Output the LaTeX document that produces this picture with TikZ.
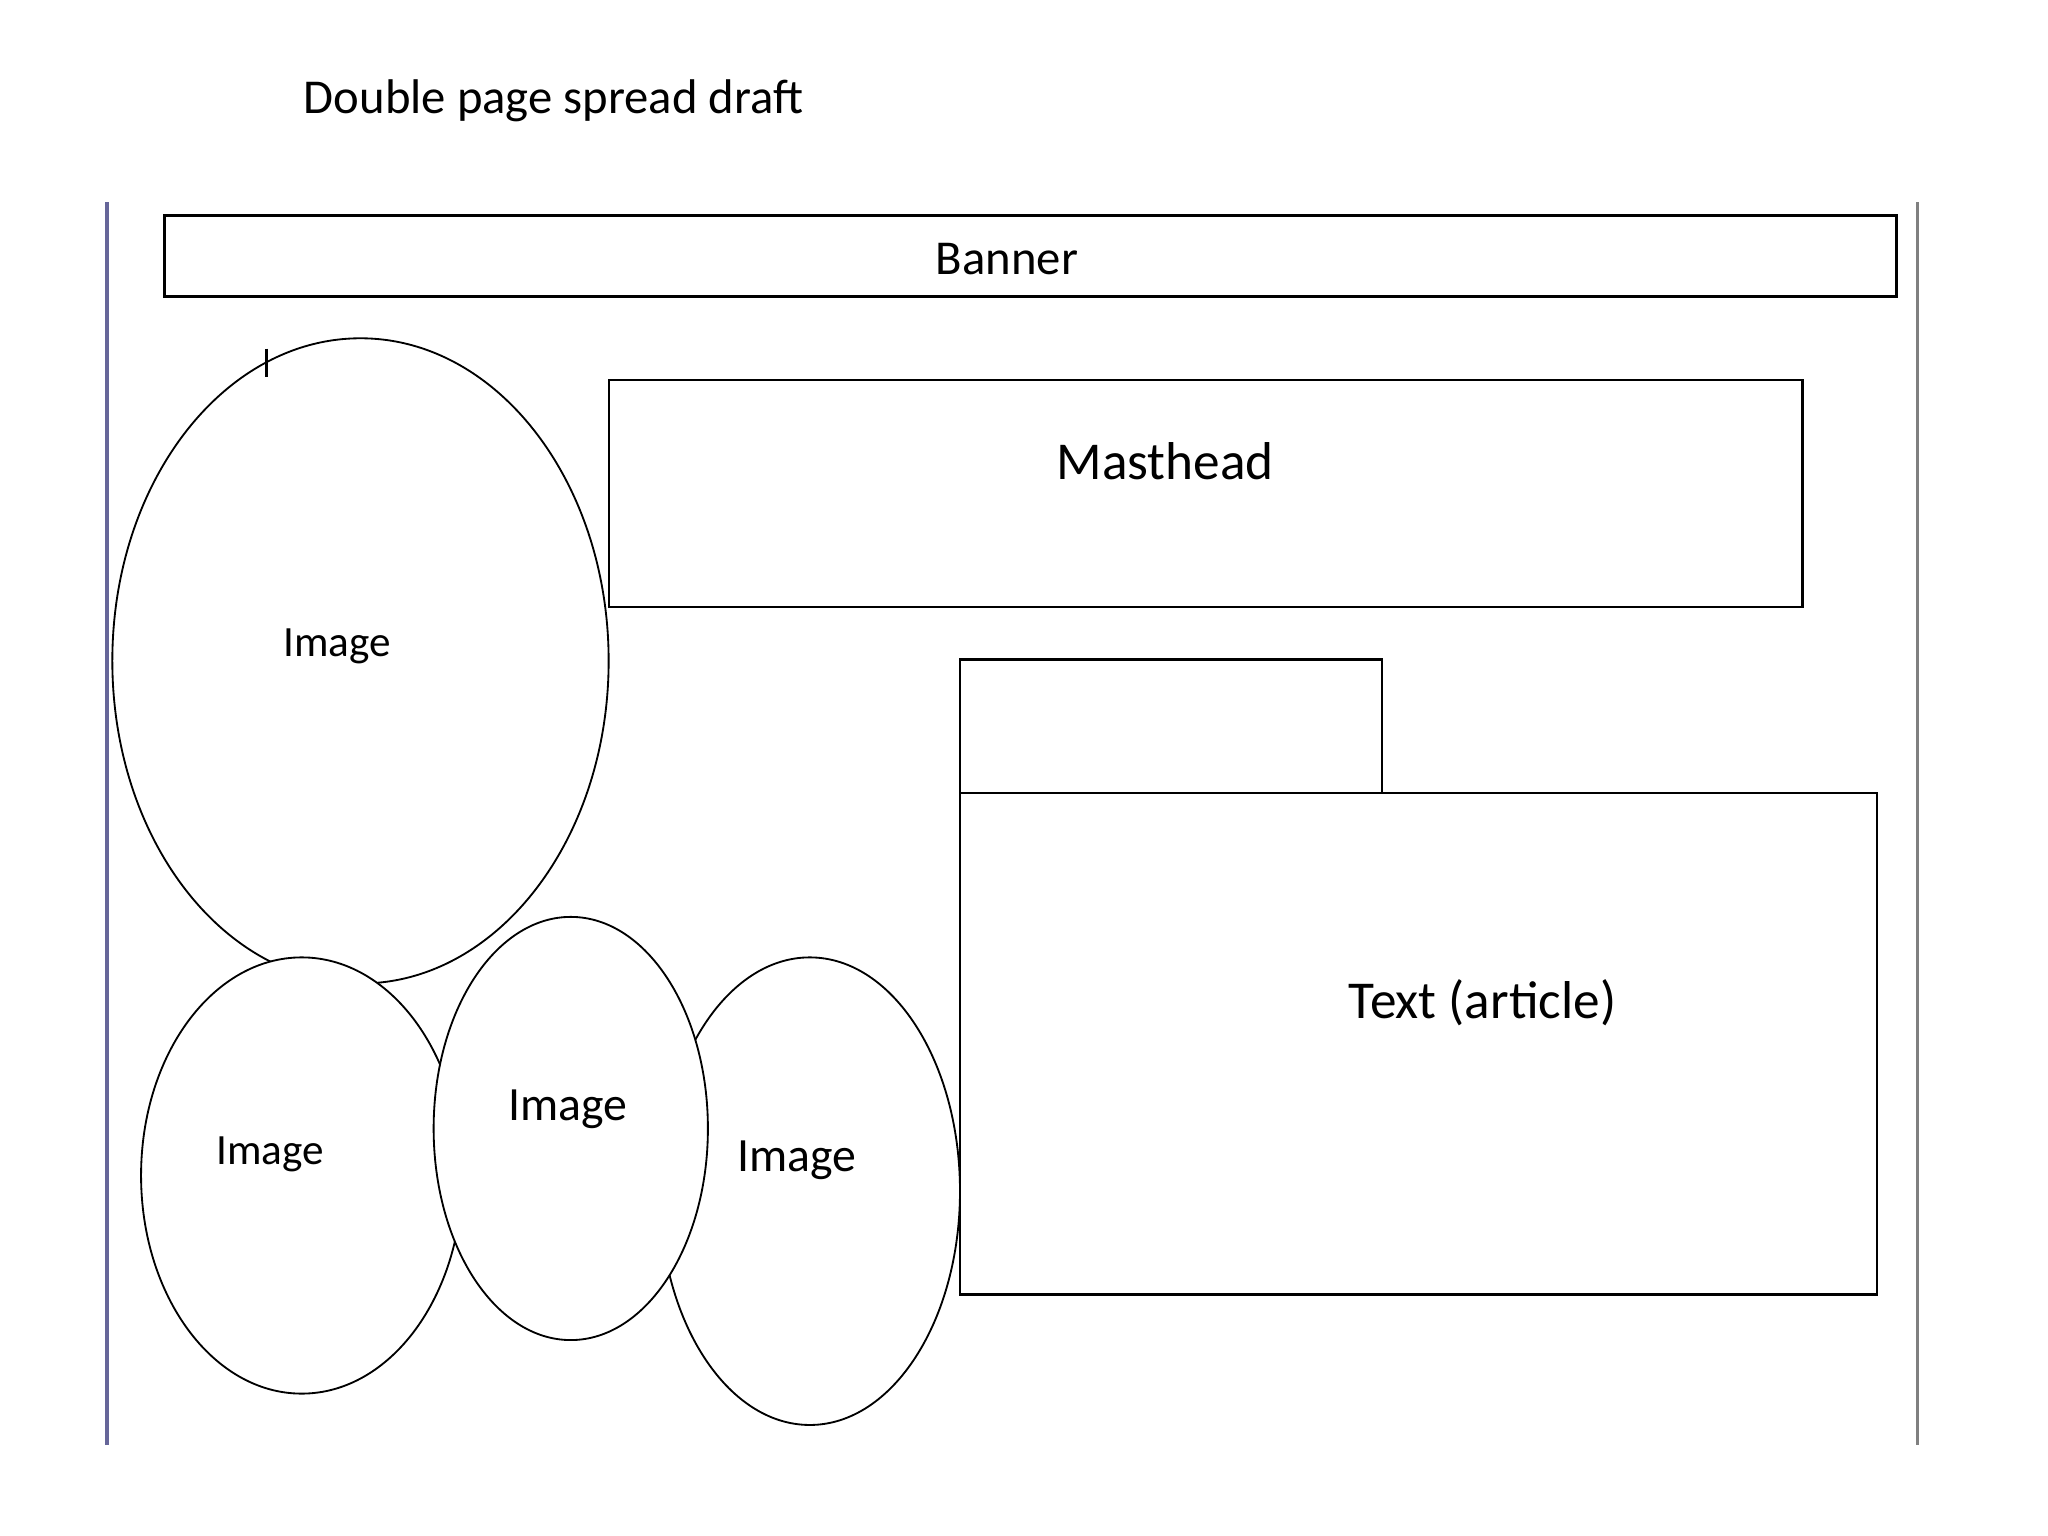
\documentclass[tikz,border=0pt]{standalone}
\usepackage{fontspec}
\setmainfont{Carlito}
\begin{document}
\begin{tikzpicture}[x=0.01cm,y=-0.01cm,
  box/.style={draw=black,line width=0.5pt,fill=white},
  ell/.style={draw=black,line width=0.4pt,fill=white},
  lab/.style={font=\fontsize{9.4}{11}\selectfont}]
\useasboundingbox[fill=white] (0,0) rectangle (1568,1176);
\node[anchor=west,inner sep=0pt,font=\fontsize{10.6}{12}\selectfont] (title) at (232,77) {Double page spread draft};
\draw[color=blue!20!gray,line width=0.8pt] (82,155) coordinate (l1) -- (82,1106) coordinate (l2);
\draw[color=gray,line width=0.6pt] (1468,155) coordinate (r1) -- (1468,1106) coordinate (r2);
\draw[box] (126,165) rectangle (1452,227);
\node[font=\fontsize{10.6}{12}\selectfont] (banner) at (771,198) {Banner};
\draw[ell] (276,506) ellipse (190 and 247);
\node[lab] (im1) at (258,495) {Image};
\draw[line width=0.6pt] (204,267) -- (204,289);
\draw[box] (466,291) rectangle (1380,465);
\node[font=\fontsize{11.6}{13}\selectfont] (mast) at (892,353) {Masthead};
\draw[box] (735,505) rectangle (1058,607);
\draw[box] (735,607) rectangle (1437,991);
\node[font=\fontsize{11.6}{13}\selectfont] (text) at (1135,768) {Text (article)};
\draw[ell] (620,912) ellipse (115 and 179);
\node[font=\fontsize{10.4}{12}\selectfont] (im4) at (610,888) {Image};
\draw[ell] (231,900) ellipse (123 and 167);
\node[lab] (im2) at (207,884) {Image};
\draw[ell] (437,864) ellipse (105 and 162);
\node[font=\fontsize{10.4}{12}\selectfont] (im3) at (435,849) {Image};
\end{tikzpicture}
\end{document}
